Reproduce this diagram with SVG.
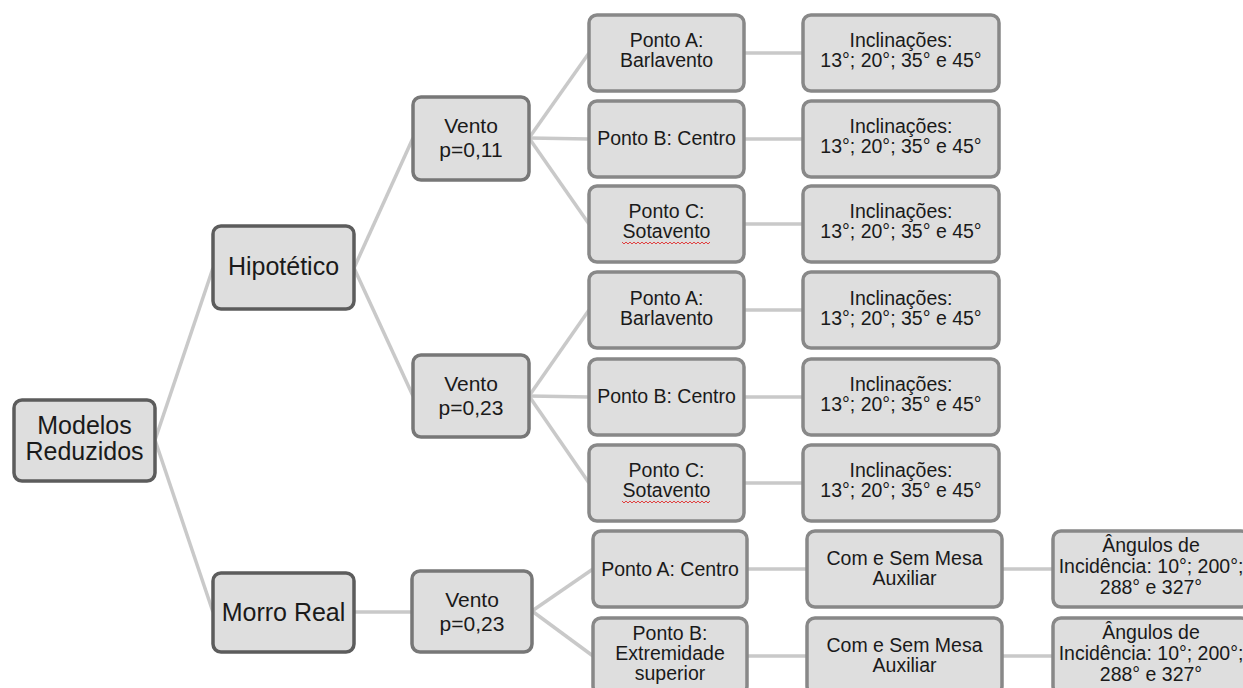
<svg xmlns="http://www.w3.org/2000/svg" width="1243" height="688" viewBox="0 0 1243 688">
<style>
  .box{fill:#dedede;stroke-width:3.5}
  .l1{stroke:#5c5c5c}
  .l2{stroke:#777777}
  .l3{stroke:#888888}
  text{font-family:"Liberation Sans",Arial,sans-serif;fill:#1a1a1a;text-anchor:middle}
  .t25{font-size:25px}
  .t21{font-size:21px}
  .t19{font-size:19.5px}
  .conn line{stroke:#c9c9c9;stroke-width:3.5}
  .sq{fill:none;stroke:#e04040;stroke-width:1}
</style>
<rect width="1243" height="688" fill="#ffffff"/>
<g class="conn" id="connectors">
  <line x1="155" y1="440" x2="213" y2="268"/>
  <line x1="155" y1="440" x2="213" y2="612"/>
  <line x1="354" y1="268" x2="413" y2="138"/>
  <line x1="354" y1="268" x2="413" y2="396"/>
  <line x1="354" y1="612" x2="412" y2="612"/>
  <line x1="529" y1="138" x2="589" y2="53"/>
  <line x1="529" y1="138" x2="589" y2="139"/>
  <line x1="529" y1="138" x2="589" y2="224"/>
  <line x1="529" y1="396" x2="589" y2="310"/>
  <line x1="529" y1="396" x2="589" y2="397"/>
  <line x1="529" y1="396" x2="589" y2="483"/>
  <line x1="532" y1="611" x2="593" y2="569"/>
  <line x1="532" y1="611" x2="593" y2="656"/>
  <line x1="744" y1="53" x2="803" y2="53"/>
  <line x1="744" y1="139" x2="803" y2="139"/>
  <line x1="744" y1="224" x2="803" y2="224"/>
  <line x1="744" y1="310" x2="803" y2="310"/>
  <line x1="744" y1="397" x2="803" y2="397"/>
  <line x1="744" y1="483" x2="803" y2="483"/>
  <line x1="747" y1="569" x2="807" y2="569"/>
  <line x1="747" y1="656" x2="807" y2="656"/>
  <line x1="1002" y1="569" x2="1053" y2="569"/>
  <line x1="1002" y1="656" x2="1053" y2="656"/>
</g>

<g id="modelos">
  <rect class="box l1" x="14" y="400" width="141" height="81" rx="8"/>
  <text class="t25" x="84.5" y="434">Modelos</text>
  <text class="t25" x="84.5" y="460">Reduzidos</text>
</g>
<g id="hipotetico">
  <rect class="box l1" x="213" y="226" width="141" height="83" rx="8"/>
  <text class="t25" x="283.5" y="275">Hipotético</text>
</g>
<g id="morro">
  <rect class="box l1" x="213" y="573" width="141" height="79" rx="8"/>
  <text class="t25" x="283.5" y="621">Morro Real</text>
</g>

<g id="vento1">
  <rect class="box l2" x="413" y="97" width="116" height="83" rx="8"/>
  <text class="t21" x="471" y="133">Vento</text>
  <text class="t21" x="471" y="157">p=0,11</text>
</g>
<g id="vento2">
  <rect class="box l2" x="413" y="355" width="116" height="82" rx="8"/>
  <text class="t21" x="471" y="391">Vento</text>
  <text class="t21" x="471" y="415">p=0,23</text>
</g>
<g id="vento3">
  <rect class="box l2" x="412" y="571" width="120" height="81" rx="8"/>
  <text class="t21" x="472" y="607">Vento</text>
  <text class="t21" x="472" y="631">p=0,23</text>
</g>

<g id="p1a">
  <rect class="box l3" x="589" y="15" width="155" height="76" rx="8"/>
  <text class="t19" x="666.5" y="47">Ponto A:</text>
  <text class="t19" x="666.5" y="67">Barlavento</text>
</g>
<g id="p1b">
  <rect class="box l3" x="589" y="101" width="155" height="76" rx="8"/>
  <text class="t19" x="666.5" y="145">Ponto B: Centro</text>
</g>
<g id="p1c">
  <rect class="box l3" x="589" y="186" width="155" height="76" rx="8"/>
  <text class="t19" x="666.5" y="218">Ponto C:</text>
  <text class="t19" x="666.5" y="238">Sotavento</text>
  <path class="sq" d="M622,242 l2,2 l2,-2 l2,2 l2,-2 l2,2 l2,-2 l2,2 l2,-2 l2,2 l2,-2 l2,2 l2,-2 l2,2 l2,-2 l2,2 l2,-2 l2,2 l2,-2 l2,2 l2,-2 l2,2 l2,-2 l2,2 l2,-2 l2,2 l2,-2 l2,2 l2,-2 l2,2 l2,-2 l2,2 l2,-2 l2,2 l2,-2 l2,2 l2,-2 l2,2 l2,-2 l2,2 l2,-2 l2,2 l2,-2 l2,2 l2,-2"/>
</g>
<g id="p2a">
  <rect class="box l3" x="589" y="272" width="155" height="76" rx="8"/>
  <text class="t19" x="666.5" y="305">Ponto A:</text>
  <text class="t19" x="666.5" y="325">Barlavento</text>
</g>
<g id="p2b">
  <rect class="box l3" x="589" y="359" width="155" height="76" rx="8"/>
  <text class="t19" x="666.5" y="403">Ponto B: Centro</text>
</g>
<g id="p2c">
  <rect class="box l3" x="589" y="445" width="155" height="76" rx="8"/>
  <text class="t19" x="666.5" y="477">Ponto C:</text>
  <text class="t19" x="666.5" y="497">Sotavento</text>
  <path class="sq" d="M622,501 l2,2 l2,-2 l2,2 l2,-2 l2,2 l2,-2 l2,2 l2,-2 l2,2 l2,-2 l2,2 l2,-2 l2,2 l2,-2 l2,2 l2,-2 l2,2 l2,-2 l2,2 l2,-2 l2,2 l2,-2 l2,2 l2,-2 l2,2 l2,-2 l2,2 l2,-2 l2,2 l2,-2 l2,2 l2,-2 l2,2 l2,-2 l2,2 l2,-2 l2,2 l2,-2 l2,2 l2,-2 l2,2 l2,-2 l2,2 l2,-2"/>
</g>

<g id="i1a">
  <rect class="box l3" x="803" y="15" width="196" height="76" rx="8"/>
  <text class="t19" x="901" y="47">Inclinações:</text>
  <text class="t19" x="901" y="67">13°; 20°; 35° e 45°</text>
</g>
<g id="i1b">
  <rect class="box l3" x="803" y="101" width="196" height="76" rx="8"/>
  <text class="t19" x="901" y="133">Inclinações:</text>
  <text class="t19" x="901" y="153">13°; 20°; 35° e 45°</text>
</g>
<g id="i1c">
  <rect class="box l3" x="803" y="186" width="196" height="76" rx="8"/>
  <text class="t19" x="901" y="218">Inclinações:</text>
  <text class="t19" x="901" y="238">13°; 20°; 35° e 45°</text>
</g>
<g id="i2a">
  <rect class="box l3" x="803" y="272" width="196" height="76" rx="8"/>
  <text class="t19" x="901" y="305">Inclinações:</text>
  <text class="t19" x="901" y="325">13°; 20°; 35° e 45°</text>
</g>
<g id="i2b">
  <rect class="box l3" x="803" y="359" width="196" height="76" rx="8"/>
  <text class="t19" x="901" y="391">Inclinações:</text>
  <text class="t19" x="901" y="411">13°; 20°; 35° e 45°</text>
</g>
<g id="i2c">
  <rect class="box l3" x="803" y="445" width="196" height="76" rx="8"/>
  <text class="t19" x="901" y="477">Inclinações:</text>
  <text class="t19" x="901" y="497">13°; 20°; 35° e 45°</text>
</g>

<g id="p3a">
  <rect class="box l3" x="593" y="531" width="154" height="76" rx="8"/>
  <text class="t19" x="670" y="576">Ponto A: Centro</text>
</g>
<g id="p3b">
  <rect class="box l3" x="593" y="618" width="154" height="76" rx="8"/>
  <text class="t19" x="670" y="640">Ponto B:</text>
  <text class="t19" x="670" y="660">Extremidade</text>
  <text class="t19" x="670" y="680">superior</text>
</g>
<g id="c3a">
  <rect class="box l3" x="807" y="531" width="195" height="76" rx="8"/>
  <text class="t19" x="904.5" y="565">Com e Sem Mesa</text>
  <text class="t19" x="904.5" y="585">Auxiliar</text>
</g>
<g id="c3b">
  <rect class="box l3" x="807" y="618" width="195" height="76" rx="8"/>
  <text class="t19" x="904.5" y="652">Com e Sem Mesa</text>
  <text class="t19" x="904.5" y="672">Auxiliar</text>
</g>
<g id="a3a">
  <rect class="box l3" x="1053" y="531" width="196" height="76" rx="8"/>
  <text class="t19" x="1151" y="552">Ângulos de</text>
  <text class="t19" x="1151" y="573">Incidência: 10°; 200°;</text>
  <text class="t19" x="1151" y="594">288° e 327°</text>
</g>
<g id="a3b">
  <rect class="box l3" x="1053" y="618" width="196" height="76" rx="8"/>
  <text class="t19" x="1151" y="639">Ângulos de</text>
  <text class="t19" x="1151" y="660">Incidência: 10°; 200°;</text>
  <text class="t19" x="1151" y="681">288° e 327°</text>
</g>
</svg>
